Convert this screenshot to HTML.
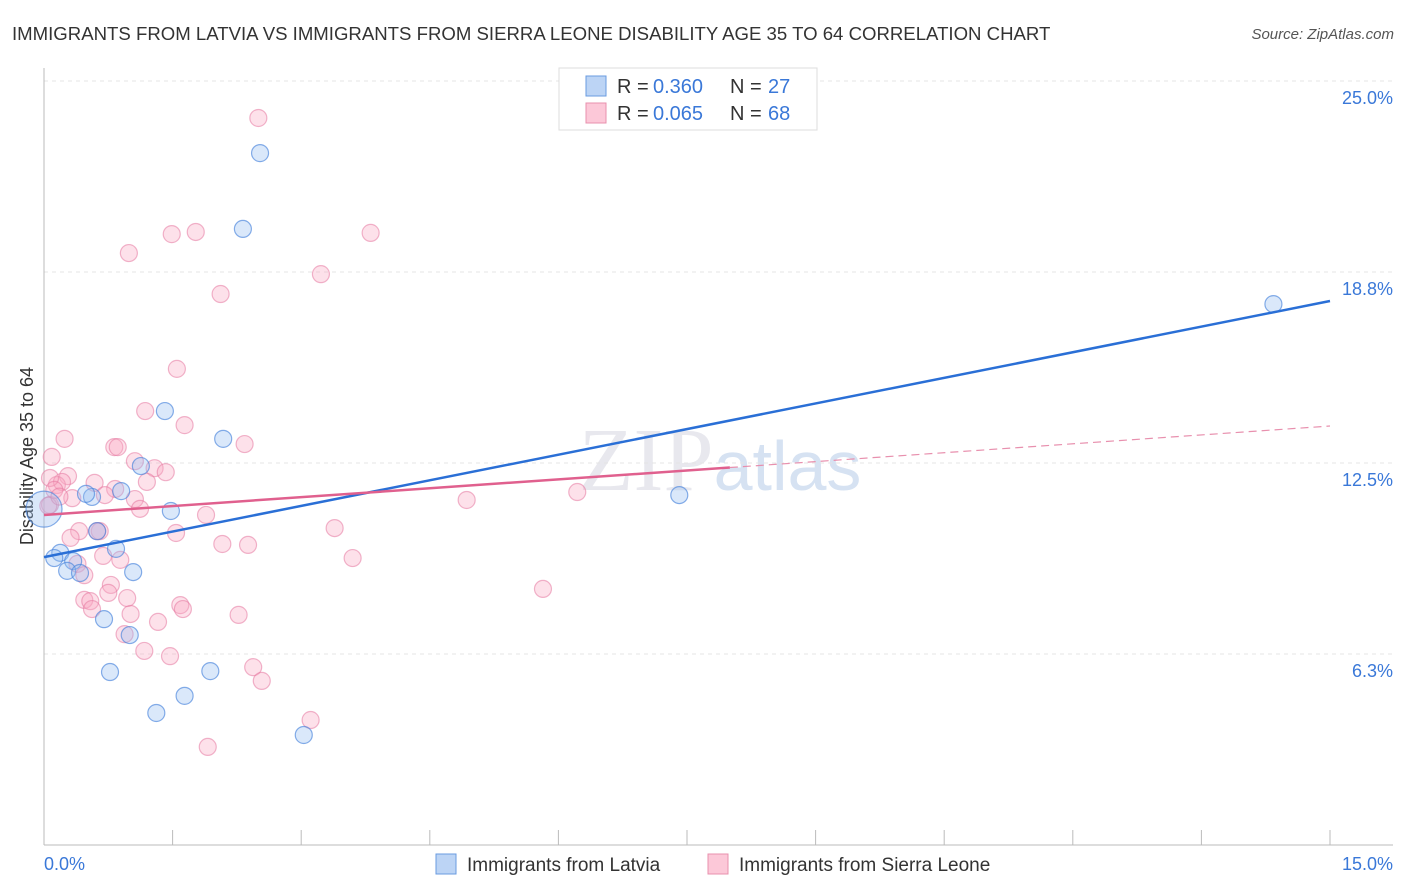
<!DOCTYPE html>
<html><head><meta charset="utf-8"><style>
body{margin:0;background:#fff;font-family:"Liberation Sans",sans-serif}
svg{display:block}
</style></head><body>
<svg id="c" width="1406" height="892">
<text x="12" y="40" font-size="18.6" fill="#333">IMMIGRANTS FROM LATVIA VS IMMIGRANTS FROM SIERRA LEONE DISABILITY AGE 35 TO 64 CORRELATION CHART</text>
<text x="1394" y="39" font-size="15" fill="#555" font-style="italic" text-anchor="end">Source: ZipAtlas.com</text>
<text x="720" y="490" font-size="90" fill="#e8e8ee" text-anchor="middle" font-family="Liberation Serif,serif">ZIP<tspan fill="#d6e2f2" font-family="Liberation Sans,sans-serif" font-size="70">atlas</tspan></text>
<text transform="translate(33,456) rotate(-90)" font-size="18" fill="#333" text-anchor="middle">Disability Age 35 to 64</text>
<g id="grid"></g><g id="pts"></g><g id="lines"></g>
<g>
<rect x="559" y="68" width="258" height="62" fill="#fff" stroke="#ddd"/>
<rect x="586" y="76" width="20" height="20" fill="#bcd4f5" stroke="#6a9be0"/>
<text x="617" y="93" font-size="20" fill="#333">R = </text>
<text x="653" y="93" font-size="20" fill="#3a78d8">0.360</text>
<text x="730" y="93" font-size="20" fill="#333">N = </text>
<text x="768" y="93" font-size="20" fill="#3a78d8">27</text>
<rect x="586" y="103" width="20" height="20" fill="#fcc8d8" stroke="#e890ae"/>
<text x="617" y="120" font-size="20" fill="#333">R = </text>
<text x="653" y="120" font-size="20" fill="#3a78d8">0.065</text>
<text x="730" y="120" font-size="20" fill="#333">N = </text>
<text x="768" y="120" font-size="20" fill="#3a78d8">68</text>
</g>
<g>
<rect x="436" y="854" width="20" height="20" fill="#bcd4f5" stroke="#6a9be0"/>
<text x="467" y="871" font-size="19" fill="#333">Immigrants from Latvia</text>
<rect x="708" y="854" width="20" height="20" fill="#fcc8d8" stroke="#e890ae"/>
<text x="739" y="871" font-size="19" fill="#333">Immigrants from Sierra Leone</text>
</g>
</svg>
<script>
const yTicks=[25,18.75,12.5,6.25];
const yTickLabels=["25.0%","18.8%","12.5%","6.3%"];
const xTickVals=[0,1.5,3,4.5,6,7.5,9,10.5,12,13.5,15];
const blueX=[2.52,2.32,14.34,1.41,2.09,1.13,0.56,0.49,0.90,0.0,1.48,7.41,0.62,0.84,0.19,0.12,0.34,0.27,0.42,1.04,0.70,1.00,0.77,1.94,1.64,1.31,3.03];
const blueY=[22.64,20.16,17.70,14.20,13.29,12.40,11.39,11.49,11.58,10.99,10.93,11.45,10.27,9.69,9.56,9.39,9.29,8.97,8.90,8.93,7.39,6.87,5.66,5.69,4.88,4.32,3.60];
const pinkX=[2.50,0.99,1.49,1.77,3.81,3.23,2.06,1.55,1.18,1.64,0.24,2.34,0.82,0.86,0.09,1.06,1.29,1.42,0.28,0.15,0.21,0.59,1.20,0.83,0.33,0.71,1.06,4.93,6.22,0.07,1.12,1.89,0.41,0.65,1.54,3.39,0.31,2.08,2.38,0.69,0.89,3.60,0.39,0.47,0.78,5.82,0.75,0.47,0.54,0.97,1.59,1.62,0.56,1.01,2.27,1.33,0.94,1.17,1.47,2.44,2.54,3.11,1.91,0.07,0.12,0.62,0.05,0.18];
const pinkY=[23.79,19.37,19.99,20.06,20.03,18.68,18.03,15.58,14.20,13.74,13.29,13.12,13.02,13.02,12.70,12.56,12.33,12.20,12.07,11.78,11.88,11.85,11.88,11.65,11.35,11.45,11.32,11.29,11.55,11.13,11.00,10.80,10.27,10.27,10.21,10.37,10.05,9.85,9.82,9.46,9.33,9.39,9.20,8.83,8.51,8.38,8.25,8.02,7.98,8.08,7.85,7.72,7.72,7.56,7.53,7.30,6.90,6.35,6.18,5.82,5.37,4.09,3.21,12.01,11.62,10.27,11.10,11.40];
const blueTrend=[9.42,17.80];
const pinkTrend=[10.80,13.71];
const pinkSolidEnd=8.0;
const X=v=>44+v/15*1286, Y=v=>81+(25-v)*30.56;
const NS="http://www.w3.org/2000/svg";
function mk(t,a,p){const e=document.createElementNS(NS,t);for(const k in a)e.setAttribute(k,a[k]);p.appendChild(e);return e;}
const g=document.getElementById('grid');
yTicks.forEach((v,i)=>{
 const l=mk('line',{x1:44,x2:1393,y1:Y(v),y2:Y(v),stroke:'#e4e4e4','stroke-dasharray':'4,4'},g);
 
 
 const t=mk('text',{x:1393,y:Y(v)+23,'font-size':18,fill:'#3a78d8','text-anchor':'end'},g);t.textContent=yTickLabels[i];
 
 
});
mk('line',{x1:44,x2:44,y1:68,y2:845,stroke:'#bbb'},g);
mk('line',{x1:44,x2:1393,y1:845,y2:845,stroke:'#bbb'},g);
xTickVals.forEach(v=>{const l=mk('line',{x1:X(v),x2:X(v),y1:830,y2:845,stroke:'#bbb'},g);
 
 });
let t=mk('text',{x:44,y:870,'font-size':18,fill:'#3a78d8'},g);t.textContent='0.0%';


t=mk('text',{x:1393,y:870,'font-size':18,fill:'#3a78d8','text-anchor':'end'},g);t.textContent='15.0%';


const p=document.getElementById('pts');
pinkX.forEach((x,i)=>{const c=mk('circle',{cx:X(x),cy:Y(pinkY[i]),r:8.5,fill:'rgba(248,170,195,0.35)',stroke:'rgba(230,120,160,0.55)','stroke-width':1.2},p);
 
 });
blueX.forEach((x,i)=>{const c=mk('circle',{cx:X(x),cy:Y(blueY[i]),r:i==9?18:8.5,fill:'rgba(150,190,240,0.35)',stroke:'rgba(70,130,220,0.65)','stroke-width':1.2},p);
 
 });
const L=document.getElementById('lines');
let a=mk('line',{x1:X(0),y1:Y(blueTrend[0]),x2:X(15),y2:Y(blueTrend[1]),stroke:'#2a6fd6','stroke-width':2.5},L);


const pm=v=>pinkTrend[0]+(pinkTrend[1]-pinkTrend[0])*v/15;
a=mk('line',{x1:X(0),y1:Y(pm(0)),x2:X(pinkSolidEnd),y2:Y(pm(pinkSolidEnd)),stroke:'#e0608e','stroke-width':2.5},L);


a=mk('line',{x1:X(pinkSolidEnd),y1:Y(pm(pinkSolidEnd)),x2:X(15),y2:Y(pm(15)),stroke:'#e890ae','stroke-width':1.2,'stroke-dasharray':'8,5'},L);


</script>
</body></html>
